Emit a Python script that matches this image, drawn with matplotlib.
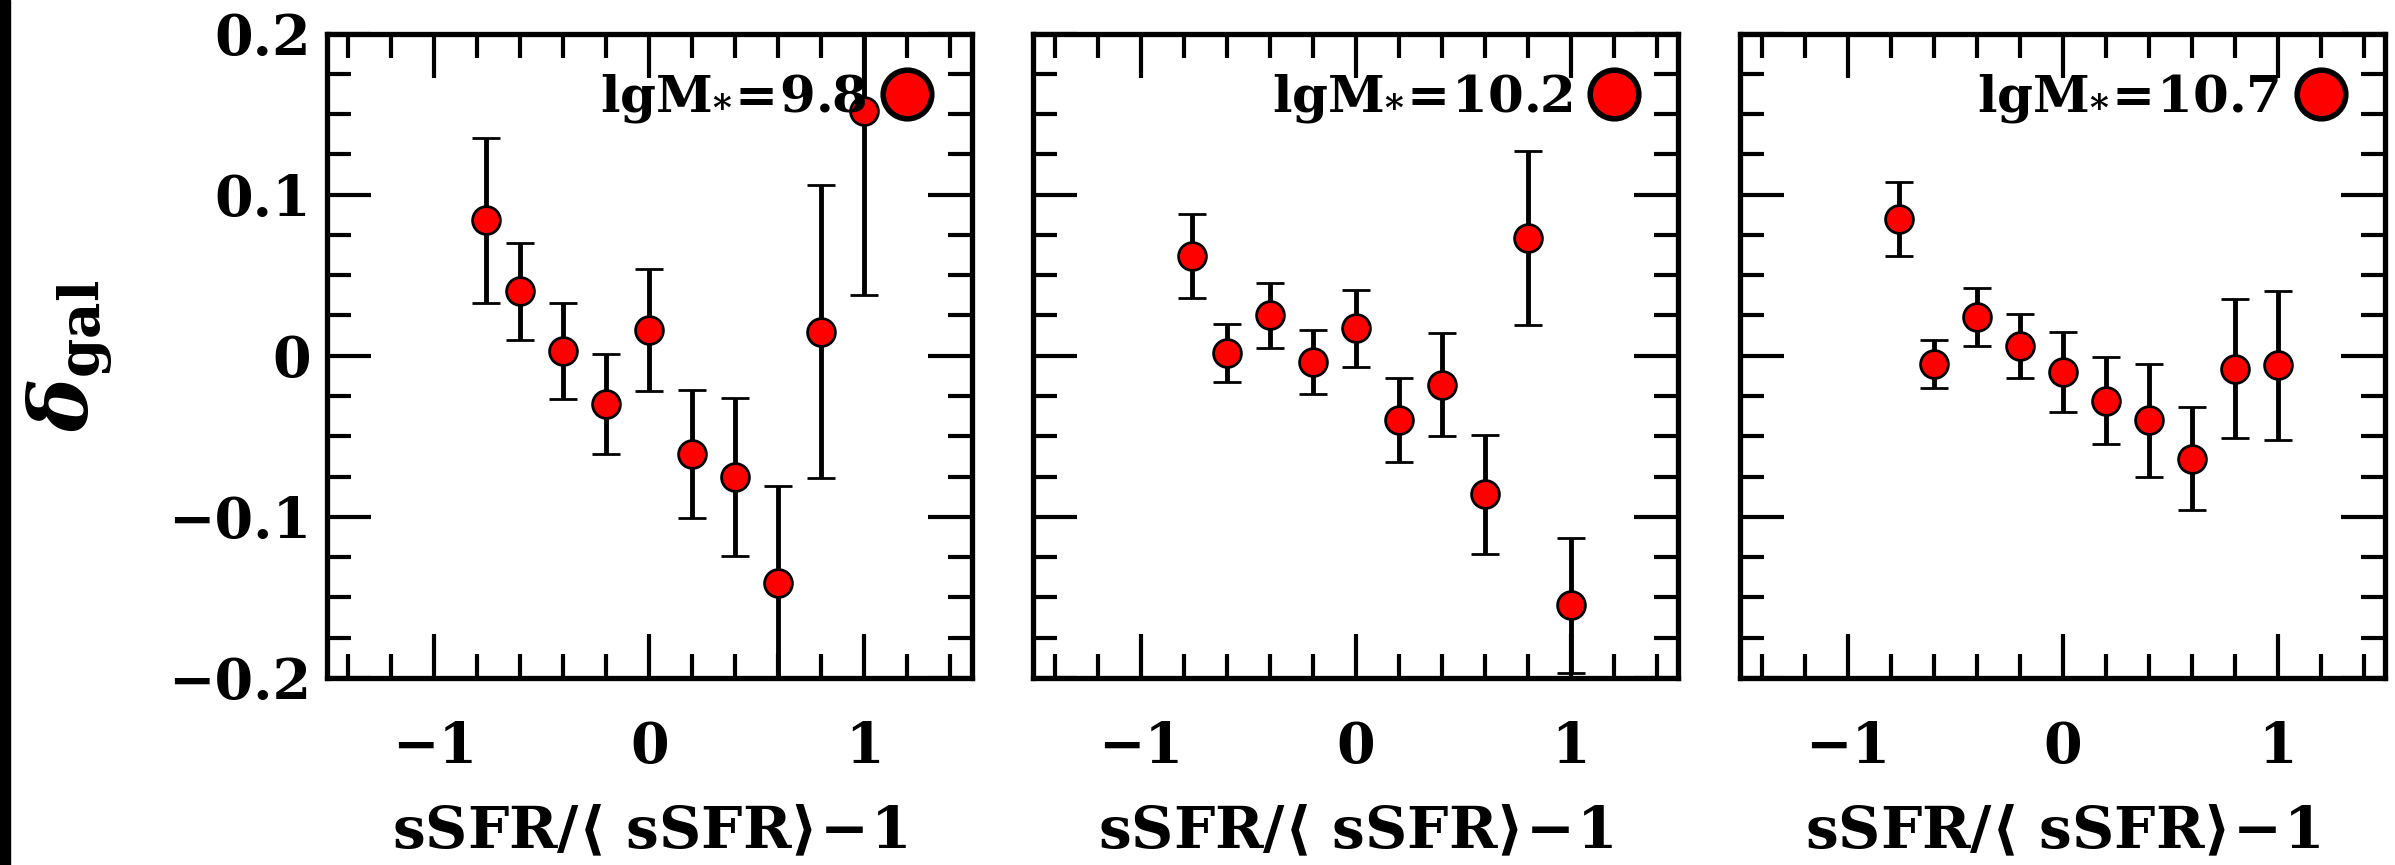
import matplotlib
matplotlib.use("Agg")
import matplotlib.pyplot as plt
from matplotlib.lines import Line2D
from matplotlib.patches import Rectangle

plt.rcParams["font.family"] = ["DejaVu Serif"]
plt.rcParams["font.weight"] = "bold"
plt.rcParams["mathtext.fontset"] = "dejavuserif"

# bin centres of sSFR/<sSFR> - 1 (shared by all three mass bins)
x_bins = [-0.76, -0.6, -0.4, -0.2, 0.0, 0.2, 0.4, 0.6, 0.8, 1.0]

# delta_gal and 1-sigma errors
mass_labels = ["9.8", "10.2", "10.7"]
delta_98 = [0.084, 0.040, 0.003, -0.030, 0.016, -0.061, -0.075, -0.141, 0.015, 0.152]
err_98 = [0.051, 0.030, 0.030, 0.031, 0.038, 0.040, 0.049, 0.060, 0.091, 0.114]
delta_102 = [0.062, 0.002, 0.025, -0.004, 0.017, -0.040, -0.018, -0.086, 0.073, -0.155]
err_102 = [0.026, 0.018, 0.020, 0.020, 0.024, 0.026, 0.032, 0.037, 0.054, 0.042]
delta_107 = [0.085, -0.005, 0.024, 0.006, -0.010, -0.028, -0.040, -0.064, -0.008, -0.006]
err_107 = [0.023, 0.015, 0.018, 0.020, 0.025, 0.027, 0.035, 0.032, 0.043, 0.046]

x_ticks = [-1, 0, 1]
x_ticklabels = ["\u22121", "0", "1"]
y_ticks = [-0.2, -0.1, 0.0, 0.1, 0.2]
y_ticklabels = ["\u22120.2", "\u22120.1", "0", "0.1", "0.2"]

panels = [(delta_98, err_98), (delta_102, err_102), (delta_107, err_107)]

W, H = 2395, 865
fig = plt.figure(figsize=(W / 100, H / 100), dpi=100)
fig.patches.append(Rectangle((0, 0), 10 / W, 1, transform=fig.transFigure,
                             color="black", zorder=10))

lefts = [326.7, 1033.3, 1740.0]
aw, ah = 645.0, 644.5
bottom_px = 678.0

for i, ((yv, ev), lab) in enumerate(zip(panels, mass_labels)):
    ax = fig.add_axes([lefts[i] / W, (H - bottom_px) / H, aw / W, ah / H])
    ax.errorbar(x_bins, yv, yerr=ev, fmt="o", mfc="red", mec="black", ms=20, mew=2.0,
                ecolor="black", elinewidth=3.5, capsize=10, capthick=3.5, zorder=3)
    ax.set_xlim(-1.5, 1.5)
    ax.set_ylim(-0.2, 0.2)
    ax.set_xticks(x_ticks)
    ax.set_xticklabels(x_ticklabels)
    ax.set_xticks([-1.4 + 0.2 * k for k in range(15)], minor=True)
    ax.set_yticks(y_ticks)
    ax.set_yticks([-0.2 + 0.025 * k for k in range(17)], minor=True)
    if i == 0:
        ax.set_yticklabels(y_ticklabels)
        ax.set_ylabel(r"$\delta_{\mathbf{gal}}$", fontsize=58, fontweight="normal")
        ax.yaxis.set_label_coords(-0.40, 0.5)
        ax.yaxis.label.set_va("center")
    else:
        ax.set_yticklabels([])
    ax.tick_params(which="both", direction="in", top=True, right=True, width=3,
                   labelsize=40)
    ax.tick_params(axis="x", pad=30)
    ax.tick_params(axis="y", pad=11)
    ax.tick_params(which="major", length=32)
    ax.tick_params(which="minor", length=17)
    for sp in ax.spines.values():
        sp.set_linewidth(3.8)
    ax.set_xlabel(r"$\mathrm{sSFR}/\langle\ \mathbf{sSFR}\rangle\!-\!\mathbf{1}$", fontsize=42)
    ax.xaxis.set_label_coords(0.5, -0.24)
    ax.xaxis.label.set_va("center")

    handle = Line2D([], [], ls="none", marker="o", ms=35, mfc="red", mec="black", mew=4)
    ax.legend(handles=[handle], labels=[r"$\mathbf{lgM_{*}\!=\!%s}$" % lab],
              loc="upper right", bbox_to_anchor=(0.932, 0.94), frameon=False,
              markerfirst=False, handlelength=0.8, handletextpad=0.4,
              borderpad=0, borderaxespad=0, fontsize=37)

fig.savefig("out.png", dpi=100)
